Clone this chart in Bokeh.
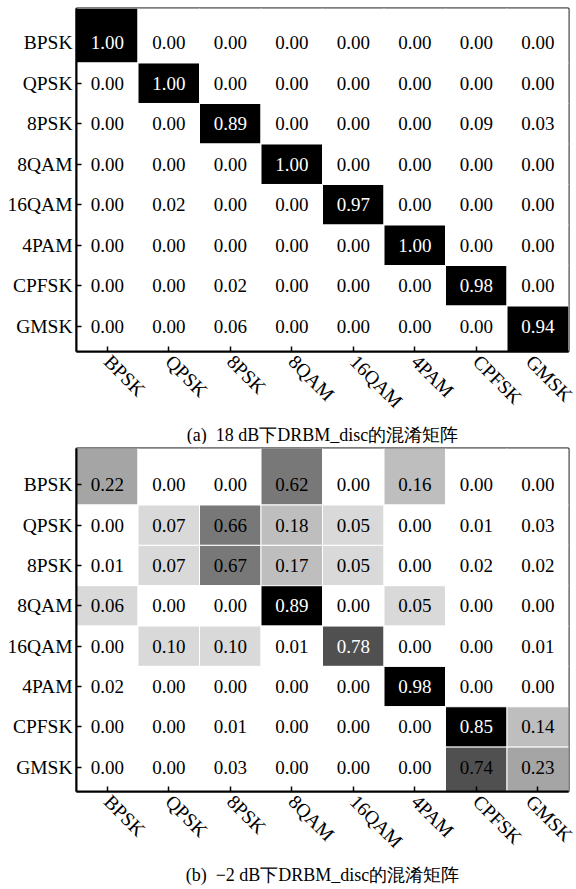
import math
from bokeh.plotting import figure
from bokeh.models import (ColumnDataSource, LinearColorMapper, Title,
                          FixedTicker, Range1d)
from bokeh.layouts import column
from bokeh.embed import file_html
from bokeh.resources import INLINE
from bokeh.core.properties import value
from bokeh.transform import transform

# ---------------- data ----------------
classes = ["BPSK", "QPSK", "8PSK", "8QAM", "16QAM", "4PAM", "CPFSK", "GMSK"]

# rows = true class, columns = predicted class
cm_18db = [
    [1.00, 0.00, 0.00, 0.00, 0.00, 0.00, 0.00, 0.00],
    [0.00, 1.00, 0.00, 0.00, 0.00, 0.00, 0.00, 0.00],
    [0.00, 0.00, 0.89, 0.00, 0.00, 0.00, 0.09, 0.03],
    [0.00, 0.00, 0.00, 1.00, 0.00, 0.00, 0.00, 0.00],
    [0.00, 0.02, 0.00, 0.00, 0.97, 0.00, 0.00, 0.00],
    [0.00, 0.00, 0.00, 0.00, 0.00, 1.00, 0.00, 0.00],
    [0.00, 0.00, 0.02, 0.00, 0.00, 0.00, 0.98, 0.00],
    [0.00, 0.00, 0.06, 0.00, 0.00, 0.00, 0.00, 0.94],
]

cm_m2db = [
    [0.22, 0.00, 0.00, 0.62, 0.00, 0.16, 0.00, 0.00],
    [0.00, 0.07, 0.66, 0.18, 0.05, 0.00, 0.01, 0.03],
    [0.01, 0.07, 0.67, 0.17, 0.05, 0.00, 0.02, 0.02],
    [0.06, 0.00, 0.00, 0.89, 0.00, 0.05, 0.00, 0.00],
    [0.00, 0.10, 0.10, 0.01, 0.78, 0.00, 0.00, 0.01],
    [0.02, 0.00, 0.00, 0.00, 0.00, 0.98, 0.00, 0.00],
    [0.00, 0.00, 0.01, 0.00, 0.00, 0.00, 0.85, 0.14],
    [0.00, 0.00, 0.03, 0.00, 0.00, 0.00, 0.74, 0.23],
]

captions = [
    "(a)\u00a0 18 dB下DRBM_disc的混淆矩阵",
    "(b)\u00a0 \u22122 dB下DRBM_disc的混淆矩阵",
]

# ---------------- style ----------------
SERIF = "Liberation Serif"
gray_levels_b = [255, 217, 217, 190, 190, 165, 160, 155, 150, 146, 142, 138,
                 134, 130, 126, 120, 120, 100, 80, 80, 40]
palette_b = ["#%02x%02x%02x" % (g, g, g) for g in gray_levels_b]
mapper_a = LinearColorMapper(palette=["#ffffff"] * 4, low=0.0, high=0.85,
                             high_color="#000000", low_color="#ffffff")
mapper_b = LinearColorMapper(palette=palette_b, low=0.0, high=0.84,
                             high_color="#000000", low_color="#ffffff")


def make_matrix(cm, caption, mapper, height, border_top, border_bottom,
                cap_standoff, pad_top, pad_bottom):
    n = len(classes)
    y0 = -0.5 - pad_bottom
    y1 = n - 0.5 + pad_top
    xs, ys, lefts, rights, bottoms, tops = [], [], [], [], [], []
    vals, labels, tcols = [], [], []
    for i, true_c in enumerate(classes):
        row = n - 1 - i          # first class drawn at the top
        for j, pred_c in enumerate(classes):
            v = cm[i][j]
            xs.append(j)
            ys.append(row)
            lefts.append(j - 0.5)
            rights.append(j + 0.5)
            bottoms.append(y0 if row == 0 else row - 0.5)
            tops.append(y1 if row == n - 1 else row + 0.5)
            vals.append(v)
            labels.append("%.2f" % v)
            tcols.append("#ffffff" if v >= 0.75 else "#000000")
    src = ColumnDataSource(dict(x=xs, y=ys, left=lefts, right=rights,
                                bottom=bottoms, top=tops, v=vals,
                                label=labels, tcol=tcols))

    p = figure(width=576, height=height,
               x_range=Range1d(-0.5, n - 0.5), y_range=Range1d(y0, y1),
               output_backend="svg", toolbar_location=None,
               min_border_left=76, min_border_right=8,
               min_border_top=border_top, min_border_bottom=border_bottom)
    p.quad(left="left", right="right", bottom="bottom", top="top", source=src,
           fill_color=transform("v", mapper),
           line_color="#ffffff", line_width=1)
    p.text(x="x", y="y", text="label", source=src,
           text_align="center", text_baseline="middle",
           text_font=value(SERIF), text_font_size="19px",
           text_color="tcol")

    p.grid.visible = False
    p.outline_line_color = "#000000"
    p.outline_line_width = 2
    p.outline_line_alpha = 1
    p.background_fill_color = "#ffffff"
    p.border_fill_color = "#ffffff"

    p.xaxis.ticker = FixedTicker(ticks=list(range(n)))
    p.xaxis.major_label_overrides = {j: c for j, c in enumerate(classes)}
    p.yaxis.ticker = FixedTicker(ticks=list(range(n)))
    p.yaxis.major_label_overrides = {n - 1 - i: c for i, c in enumerate(classes)}

    for ax in (p.xaxis[0], p.yaxis[0]):
        ax.axis_line_width = 2
        ax.axis_line_color = "#000000"
        ax.major_tick_in = 5
        ax.major_tick_out = 0
        ax.minor_tick_in = 0
        ax.minor_tick_out = 0
        ax.major_tick_line_width = 1.5
        ax.major_tick_line_color = "#000000"
        ax.major_label_text_font = SERIF
        ax.major_label_text_font_size = "19.5px"
        ax.major_label_text_color = "#000000"
        ax.major_label_standoff = 4
    p.xaxis.major_label_orientation = -math.pi / 4
    p.xaxis.major_label_standoff = 7

    t = Title(text=caption, align="center", text_font=SERIF,
              text_font_size="18px", text_font_style="normal",
              text_color="#000000", standoff=cap_standoff)
    p.add_layout(t, "below")
    return p


p1 = make_matrix(cm_18db, captions[0], mapper_a, 444, 8, 92, 0, 0.345, 0.123)
p2 = make_matrix(cm_m2db, captions[1], mapper_b, 445, 4, 98, 1, 0.40, 0.10)

layout = column(p1, p2, spacing=0)
open("out.html", "w").write(file_html(layout, INLINE))
